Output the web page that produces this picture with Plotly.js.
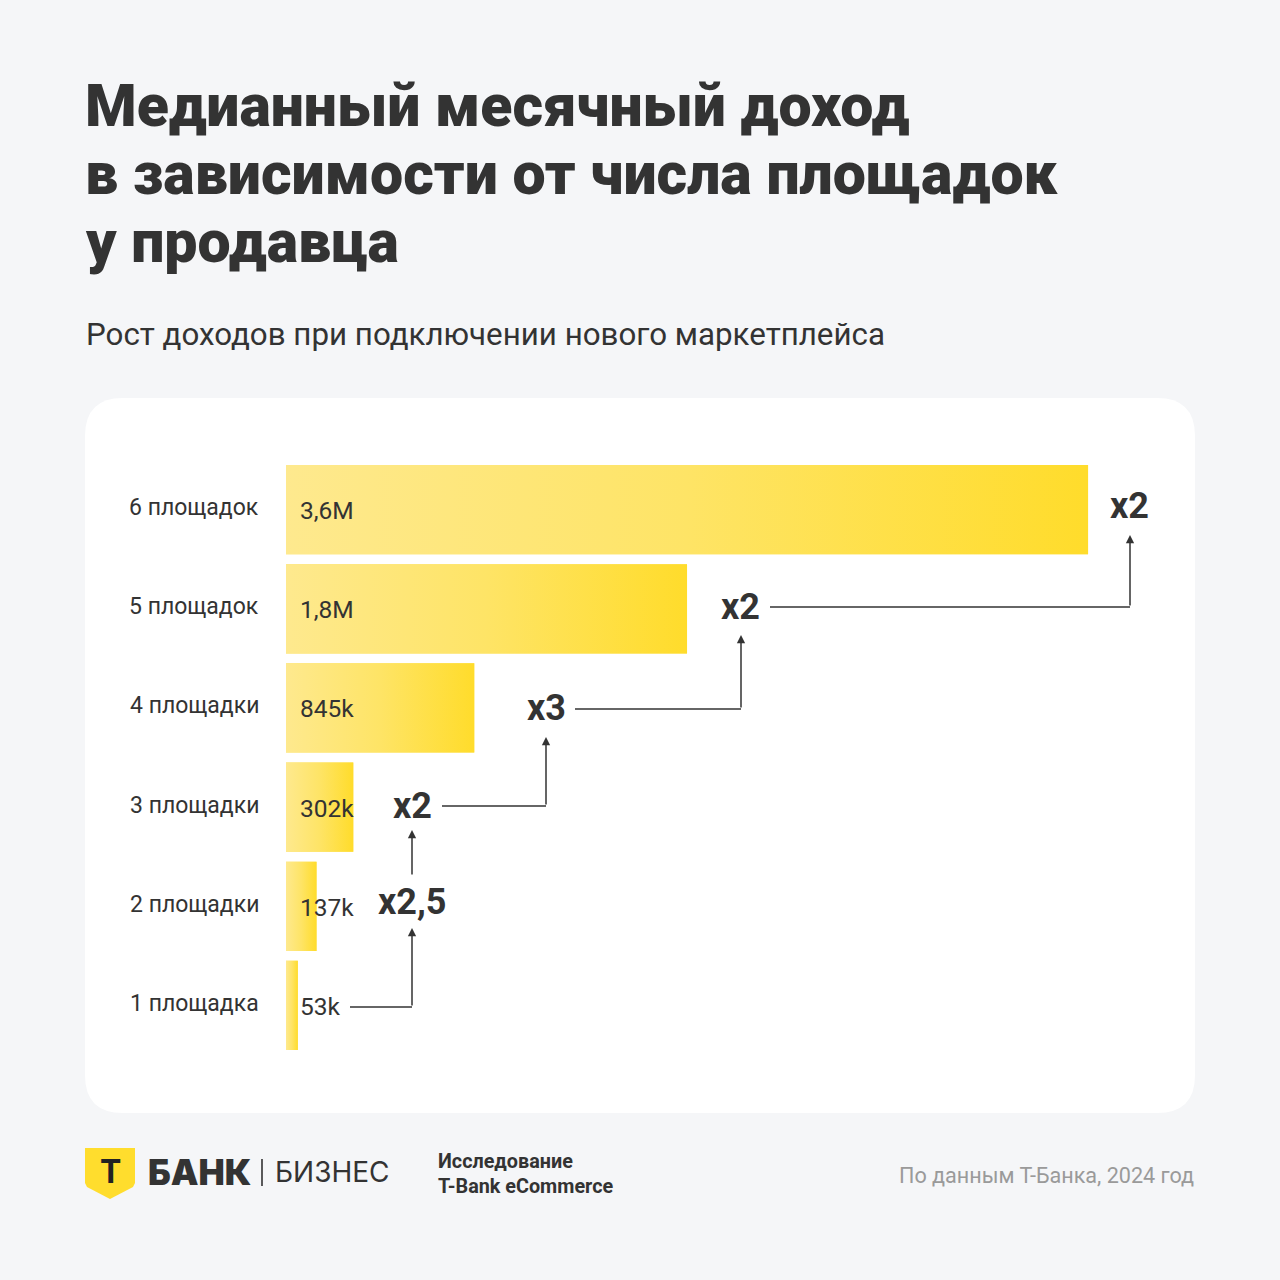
<!DOCTYPE html>
<html><head><meta charset="utf-8">
<script src="https://cdn.plot.ly/plotly-3.0.1.min.js"></script>
<style>html,body{margin:0;padding:0;background:#f5f6f8;} #chart{width:1280px;height:1280px;}</style>
</head><body><div id="chart"></div>
<script>
// ---------- DATA ----------
const categories = ['1 площадка','2 площадки','3 площадки','4 площадки','5 площадок','6 площадок'];
const incomeMln = [0.053, 0.137, 0.302, 0.845, 1.8, 3.6];
const valueLabels = ['53k','137k','302k','845k','1,8M','3,6M'];
const growthLabels = ['x2,5','x2','x3','x2','x2'];
const titleLines = ['Медианный месячный доход','в зависимости от числа площадок','у продавца'];
const subtitle = 'Рост доходов при подключении нового маркетплейса';
const sourceText = 'По данным Т-Банка, 2024 год';
const studyLines = ['Исследование','T-Bank eCommerce'];

// ---------- GEOMETRY ----------
const W=1280,H=1280,L=286,R=85,T=460,B=225;
const plotW=W-L-R, plotH=H-T-B;
const xMax=4.08;
const n=categories.length;
const idx=categories.map((_,i)=>i);
const pxX=px=>(px-L)/plotW;           // pixel -> paper x
const pyY=py=>(H-B-py)/plotH;         // pixel -> paper y
const dX=px=>(px-L)/plotW*xMax;       // pixel -> data x
const dY=py=>(H-B-py)/plotH*n-0.5;    // pixel -> data y

const INK='#333333';
const BAR_W=0.9;

// ---------- TRACES ----------
const traces=[];
traces.push({
  type:'bar', orientation:'h', x:incomeMln, y:idx, width:BAR_W,
  marker:{color:'#fee25a', line:{width:0}}, hoverinfo:'skip', showlegend:false
});
// gradient overlay for each bar, built from the same data
incomeMln.forEach((v,i)=>{
  const y0=i-BAR_W/2, y1=i+BAR_W/2;
  traces.push({
    type:'scatter', mode:'none', x:[0,v,v,0,0], y:[y0,y0,y1,y1,y0],
    fill:'toself',
    fillgradient:{type:'horizontal', colorscale:[[0,'#fee98e'],[0.5,'#fee466'],[1,'#ffdc2b']]},
    hoverinfo:'skip', showlegend:false
  });
});

// ---------- SHAPES ----------
function rrect(x0,y0,x1,y1,r){
  const P=(x,y)=>pxX(x).toFixed(5)+','+pyY(y).toFixed(5);
  return 'M'+P(x0+r,y0)+' L'+P(x1-r,y0)+' Q'+P(x1,y0)+' '+P(x1,y0+r)+
    ' L'+P(x1,y1-r)+' Q'+P(x1,y1)+' '+P(x1-r,y1)+
    ' L'+P(x0+r,y1)+' Q'+P(x0,y1)+' '+P(x0,y1-r)+
    ' L'+P(x0,y0+r)+' Q'+P(x0,y0)+' '+P(x0+r,y0)+' Z';
}
function poly(pts){
  const P=(x,y)=>pxX(x).toFixed(5)+','+pyY(y).toFixed(5);
  return pts.map((p,k)=>(k?'L':'M')+P(p[0],p[1])).join(' ')+' Z';
}
const shapes=[
  {type:'path', xref:'paper', yref:'paper', layer:'below', path:rrect(85,398,1195,1113,38), fillcolor:'#ffffff', line:{width:0}},
  // logo shield
  {type:'path', xref:'paper', yref:'paper', layer:'above',
   path:poly([[85,1148],[135,1148],[135,1183],[133,1187],[110,1199],[87,1187],[85,1183]]),
   fillcolor:'#ffdd2d', line:{width:0}},
  // separator in logo
  {type:'line', xref:'paper', yref:'paper', x0:pxX(262), x1:pxX(262), y0:pyY(1159), y1:pyY(1186), line:{color:INK,width:1.6}}
];

// connector lines (horizontal parts), pixel design positions
const hSegs=[[350,412,1007],[442,546,806],[575,741,709],[770,1130,607]];
hSegs.forEach(s=>shapes.push({type:'line', xref:'x', yref:'y', x0:dX(s[0]), x1:dX(s[1]), y0:dY(s[2]), y1:dY(s[2]), line:{color:INK,width:1.5}}));

// ---------- ANNOTATIONS ----------
const ann=[];
// title
const titleY=[106,174,242];
titleLines.forEach((t,k)=>ann.push({xref:'paper',yref:'paper',x:pxX(83),y:pyY(titleY[k]),xanchor:'left',yanchor:'middle',
  text:t, showarrow:false, font:{family:'Roboto',size:59,weight:900,color:INK}}));
ann.push({xref:'paper',yref:'paper',x:pxX(84),y:pyY(334),xanchor:'left',yanchor:'middle',text:subtitle,showarrow:false,
  font:{family:'Roboto',size:31.3,color:INK}});

// category labels (left of bars)
categories.forEach((t,i)=>ann.push({x:0,y:i,xref:'x',yref:'y',xanchor:'right',yanchor:'middle',xshift:-25,yshift:2,
  text:t,showarrow:false,font:{family:'Roboto',size:23,color:INK}}));

// value labels inside bars
valueLabels.forEach((t,i)=>ann.push({x:0,y:i,xref:'x',yref:'y',xanchor:'left',yanchor:'middle',xshift:12,yshift:-1,
  text:t,showarrow:false,font:{family:'Roboto',size:24.5,color:INK}}));

// growth multipliers
const growthPos=[[412,902],[412,806],[546,708],[740,607],[1129,506]];
growthLabels.forEach((t,k)=>ann.push({x:dX(growthPos[k][0]),y:dY(growthPos[k][1]),xref:'x',yref:'y',xanchor:'center',yanchor:'middle',
  text:'<b>'+t+'</b>',showarrow:false,font:{family:'Roboto',size:36,color:INK}}));

// vertical arrows: [x, tailY, tipY]
const vArrows=[[412,1007,928],[412,876,830],[546,806,737],[741,709,635],[1130,607,535]];
vArrows.forEach(a=>ann.push({x:dX(a[0]),y:dY(a[2]),ax:dX(a[0]),ay:dY(a[1]),xref:'x',yref:'y',axref:'x',ayref:'y',
  text:'',showarrow:true,arrowhead:2,arrowsize:1.1,arrowwidth:1.5,arrowcolor:INK,standoff:0,startstandoff:0}));

// footer
ann.push({xref:'paper',yref:'paper',x:pxX(110),y:pyY(1171),xanchor:'center',yanchor:'middle',text:'<b>Т</b>',showarrow:false,
  font:{family:'Inter',size:32,weight:900,color:'#222'}});
ann.push({xref:'paper',yref:'paper',x:pxX(146),y:pyY(1172),xanchor:'left',yanchor:'middle',text:'БАНК',showarrow:false,
  font:{family:'Inter',size:35,weight:900,color:INK}});
ann.push({xref:'paper',yref:'paper',x:pxX(273),y:pyY(1172),xanchor:'left',yanchor:'middle',text:'БИЗНЕС',showarrow:false,
  font:{family:'Inter',size:28,weight:400,color:INK}});
ann.push({xref:'paper',yref:'paper',x:pxX(436),y:pyY(1161),xanchor:'left',yanchor:'middle',text:'<b>'+studyLines[0]+'</b>',showarrow:false,
  font:{family:'Roboto',size:19.8,color:INK}});
ann.push({xref:'paper',yref:'paper',x:pxX(436),y:pyY(1186),xanchor:'left',yanchor:'middle',text:'<b>'+studyLines[1]+'</b>',showarrow:false,
  font:{family:'Roboto',size:19.8,color:INK}});
ann.push({xref:'paper',yref:'paper',x:pxX(1196),y:pyY(1175),xanchor:'right',yanchor:'middle',text:sourceText,showarrow:false,
  font:{family:'Roboto',size:21.6,color:'#9a9a9a'}});

const layout={
  width:W,height:H,
  paper_bgcolor:'#f5f6f8', plot_bgcolor:'rgba(0,0,0,0)',
  margin:{l:L,r:R,t:T,b:B,pad:0},
  showlegend:false,
  xaxis:{range:[0,xMax],visible:false,fixedrange:true},
  yaxis:{range:[-0.5,n-0.5],tickvals:idx,ticktext:categories,showgrid:false,zeroline:false,showline:false,
    ticks:'',showticklabels:false,fixedrange:true},
  shapes:shapes, annotations:ann, bargap:0.1
};
Plotly.newPlot('chart',traces,layout,{staticPlot:true,displayModeBar:false});
</script></body></html>
